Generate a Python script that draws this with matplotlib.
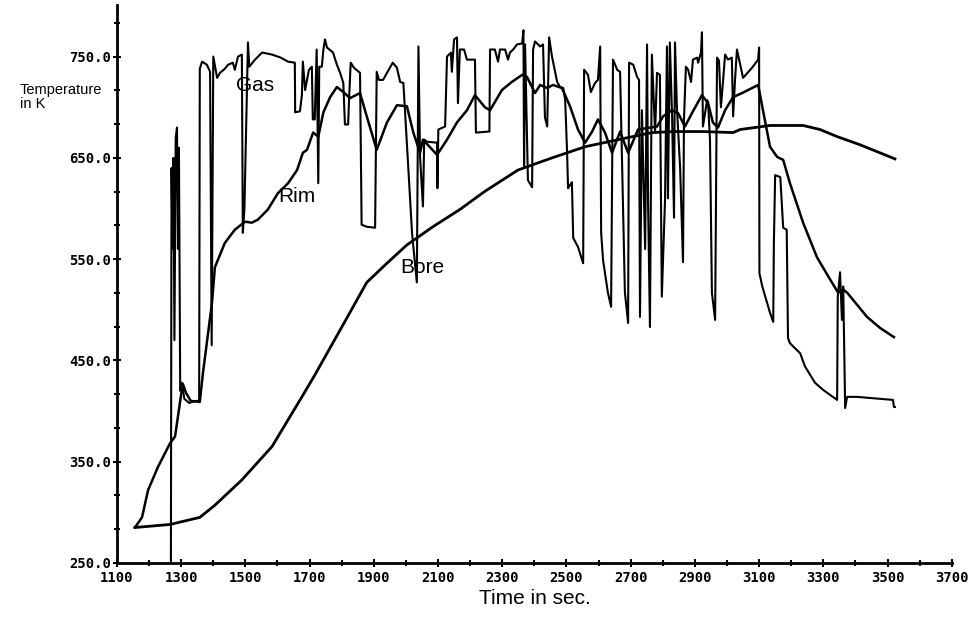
import numpy as np
import matplotlib.pyplot as plt
from matplotlib.ticker import MultipleLocator, FixedLocator

# Gas temperature (time in sec, temperature in K)
gas_t = [1268, 1270, 1273, 1276, 1279, 1283, 1287, 1290, 1293, 1297, 1302, 1310, 1325, 1345, 1356,
         1358, 1365, 1380, 1390, 1395, 1400, 1412, 1421, 1436, 1446, 1461, 1467, 1477, 1489, 1492,
         1497, 1508, 1512, 1530, 1552, 1583, 1610, 1633, 1654, 1655, 1670, 1676, 1679, 1686, 1698,
         1707, 1710, 1716, 1722, 1727, 1730, 1738, 1743, 1748, 1754, 1773, 1785, 1795, 1805, 1810,
         1820, 1823, 1828, 1838, 1857, 1862, 1878, 1904, 1909, 1916, 1929, 1941, 1959, 1972, 1982,
         1992, 1997, 2019, 2034, 2039, 2044, 2053, 2057, 2065, 2097, 2098, 2101, 2122, 2128, 2140,
         2143, 2150, 2159, 2162, 2168, 2181, 2190, 2215, 2218, 2260, 2262, 2277, 2287, 2293, 2309,
         2318, 2324, 2334, 2346, 2362, 2366, 2368, 2371, 2380, 2393, 2396, 2402, 2418, 2427, 2433,
         2440, 2446, 2455, 2471, 2480, 2490, 2496, 2502, 2505, 2517, 2521, 2536, 2552, 2555, 2567,
         2576, 2589, 2598, 2605, 2608, 2614, 2629, 2639, 2645, 2658, 2667, 2673, 2682, 2692, 2695,
         2708, 2720, 2726, 2729, 2735, 2745, 2751, 2754, 2760, 2766, 2776, 2782, 2791, 2797, 2807,
         2813, 2816, 2822, 2829, 2835, 2838, 2844, 2854, 2863, 2866, 2872, 2879, 2888, 2894, 2907,
         2910, 2919, 2922, 2925, 2938, 2941, 2947, 2953, 2963, 2969, 2975, 2981, 2988, 2994, 3003,
         3015, 3019, 3025, 3031, 3050, 3078, 3097, 3100, 3101, 3110, 3134, 3144, 3146, 3150, 3166,
         3175, 3186, 3190, 3196, 3228, 3243, 3274, 3299, 3321, 3343, 3345, 3352, 3358, 3362, 3368,
         3374, 3405, 3517, 3520, 3523]
gas_T = [250, 640, 560, 650, 470, 670, 680, 560, 660, 420, 428, 412, 408, 410, 410,
         738, 745, 742, 735, 465, 750, 729, 734, 738, 742, 744, 737, 750, 752, 576,
         600, 764, 740, 747, 754, 752, 749, 745, 744, 695, 696, 712, 745, 717, 737,
         740, 688, 688, 757, 625, 740, 740, 757, 767, 759, 754, 742, 734, 724, 683,
         683, 709, 744, 739, 734, 584, 582, 581, 735, 727, 727, 734, 744, 739, 725,
         724, 697, 576, 527, 760, 651, 602, 668, 666, 665, 620, 678, 681, 750, 754,
         735, 767, 769, 704, 757, 757, 747, 747, 675, 676, 757, 757, 745, 757, 757,
         747, 754, 757, 762, 763, 776, 641, 762, 628, 621, 757, 765, 760, 762, 690,
         681, 769, 750, 725, 720, 719, 707, 655, 620, 626, 571, 562, 546, 737, 732,
         715, 724, 727, 760, 576, 549, 517, 503, 747, 737, 735, 648, 517, 487, 744,
         742, 730, 727, 493, 697, 560, 762, 609, 483, 752, 675, 734, 732, 513, 609,
         760, 610, 764, 691, 591, 764, 700, 640, 547, 688, 740, 737, 725, 747, 749,
         744, 754, 774, 681, 707, 705, 668, 517, 490, 749, 746, 700, 727, 752, 747,
         749, 691, 727, 757, 729, 739, 747, 759, 536, 523, 497, 488, 566, 633, 631,
         581, 579, 472, 467, 457, 444, 428, 421, 416, 411, 513, 537, 490, 523, 403,
         414, 414, 411, 404, 404]

# Rim temperature
rim_t = [1156, 1178, 1197, 1228, 1265, 1281, 1297, 1305, 1315, 1330, 1358, 1368, 1396, 1405,
         1436, 1467, 1499, 1520, 1539, 1570, 1601, 1633, 1661, 1679, 1692, 1711, 1727, 1743,
         1764, 1785, 1805, 1826, 1857, 1878, 1909, 1941, 1972, 2003, 2023, 2044, 2053, 2097,
         2128, 2159, 2190, 2215, 2246, 2262, 2299, 2330, 2362, 2377, 2402, 2418, 2440, 2458,
         2486, 2511, 2536, 2558, 2580, 2598, 2620, 2642, 2667, 2692, 2723, 2782, 2801, 2828,
         2848, 2869, 2894, 2922, 2941, 2956, 2972, 2994, 3019, 3047, 3097, 3112, 3134, 3156,
         3175, 3196, 3237, 3280, 3321, 3346, 3361, 3374, 3436, 3477, 3520]
rim_T = [285, 295, 322, 345, 368, 375, 410, 427, 418, 410, 409, 438, 507, 542,
         566, 579, 587, 586, 589, 599, 615, 625, 638, 655, 658, 675, 671, 695,
         710, 720, 715, 709, 714, 691, 658, 685, 702, 701, 675, 655, 668, 653,
         668, 685, 697, 712, 700, 697, 717, 725, 732, 730, 714, 722, 719, 722,
         719, 701, 678, 665, 676, 688, 675, 655, 676, 655, 678, 681, 691, 697,
         694, 681, 696, 712, 704, 685, 680, 697, 710, 714, 722, 697, 661, 651,
         648, 625, 586, 552, 530, 517, 520, 517, 493, 482, 473]

# Bore temperature
bore_t = [1156, 1265, 1358, 1405, 1489, 1583, 1676, 1717, 1795, 1878, 1941, 2003, 2084, 2168,
          2246, 2349, 2455, 2558, 2661, 2766, 2838, 2925, 3019, 3041, 3134, 3237, 3290, 3343,
          3414, 3523]
bore_T = [285, 288, 295, 307, 332, 365, 414, 436, 480, 527, 546, 564, 582, 599,
          617, 638, 650, 661, 668, 675, 676, 676, 675, 678, 682, 682, 678, 671,
          663, 649]

fig = plt.figure(figsize=(9.69, 6.2), dpi=100)
ax = fig.add_axes([0.1207, 0.092, 0.8615, 0.9])

ax.plot(gas_t, gas_T, color='black', lw=1.5)
ax.plot(rim_t, rim_T, color='black', lw=1.8)
ax.plot(bore_t, bore_T, color='black', lw=2.0)

ax.text(1530, 721, 'Gas', fontsize=15, family='Liberation Sans', ha='center', va='center')
ax.text(1660, 612, 'Rim', fontsize=15, family='Liberation Sans', ha='center', va='center')
ax.text(2050, 542, 'Bore', fontsize=15, family='Liberation Sans', ha='center', va='center')

ax.set_xlim(1100, 3700)
ax.set_ylim(250, 801)
for s in ['top', 'right']:
    ax.spines[s].set_visible(False)
ax.spines['left'].set_linewidth(2)
ax.spines['bottom'].set_linewidth(2)

ax.set_xticks(np.arange(1100, 3701, 200))
ax.xaxis.set_minor_locator(MultipleLocator(100))
ax.set_yticks(np.arange(250, 751, 100))
ax.set_yticklabels(['%.1f' % v for v in np.arange(250, 751, 100)])
ax.yaxis.set_minor_locator(FixedLocator(250 + np.arange(17) * 100 / 3))
ax.tick_params(which='both', direction='inout', width=1.5)
ax.tick_params(which='major', length=6, labelsize=10)
ax.tick_params(which='minor', length=5)
ax.tick_params(axis='x', pad=3)
ax.tick_params(axis='y', pad=1)
for lab in ax.get_xticklabels() + ax.get_yticklabels():
    lab.set_family('DejaVu Sans Mono')
    lab.set_weight('bold')

fig.text(20 / 969, 1 - 97 / 620, 'Temperature\nin K', fontsize=10.5, family='Liberation Sans',
         ha='left', va='center', linespacing=0.95)
fig.text(535 / 969, 1 - 598 / 620, 'Time in sec.', fontsize=15, family='Liberation Sans',
         ha='center', va='center')

fig.savefig('out.png', dpi=100)
